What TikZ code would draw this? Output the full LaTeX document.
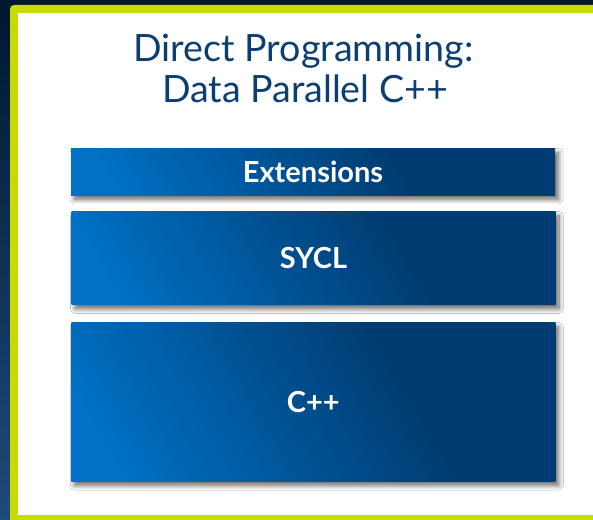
\documentclass[tikz,border=0pt]{standalone}
\usepackage{fontspec}
\setmainfont{Lato}
\usetikzlibrary{shadows.blur}

\definecolor{navytop}{HTML}{00172D}
\definecolor{navybottom}{HTML}{1F4B78}
\definecolor{lime}{HTML}{C8DB00}
\definecolor{titleblue}{HTML}{0B3E72}
\definecolor{boxlight}{HTML}{0071C5}
\definecolor{boxdark}{HTML}{003C71}

\pgfdeclarehorizontalshading{boxgrad}{100bp}{%
  color(0bp)=(boxlight); color(22bp)=(boxlight);
  color(62bp)=(boxdark); color(100bp)=(boxdark)}

\tikzset{
  layerbox/.style={
    shading=boxgrad, shading angle=30,
    minimum width=484pt, inner sep=0pt,
    text=white, font=\bfseries\fontsize{29}{34}\selectfont,
    blur shadow={shadow xshift=3.5pt, shadow yshift=-4pt,
      shadow blur radius=4.5pt, shadow blur steps=12, shadow opacity=60}},
  titletext/.style={anchor=base, text=titleblue,
    font=\fontsize{37.6}{44}\selectfont, inner sep=0pt}
}

\begin{document}
\begin{tikzpicture}[x=1pt,y=1pt]
  \useasboundingbox (0,0) rectangle (593,519);
  % dark backdrop behind the frame
  \shade[top color=navytop, bottom color=navybottom] (0,0) rectangle (593,519);
  % lime frame and white panel
  \fill[lime, rounded corners=4pt] (10,514) rectangle (620,-20);
  \fill[white] (18,505.5) rectangle (620,4);

  % title
  \node[titletext] (title1) at (303.5,457) {Direct Programming:};
  \node[titletext] (title2) at (305,416) {Data Parallel C++};

  % stacked layers
  \node[layerbox, minimum height=46.5pt] (ext)  at (313,346.75) {Extensions};
  \node[layerbox, minimum height=93pt]   (sycl) at (313.5,260.5) {SYCL};
  \node[layerbox, minimum height=158.5pt] (cpp) at (313.25,116.75) {C++};
\end{tikzpicture}
\end{document}
